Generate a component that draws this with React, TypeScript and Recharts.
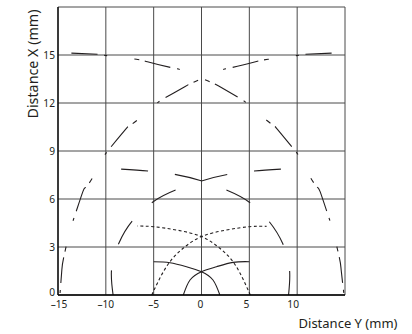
import React from 'react';
import { LineChart, Line, XAxis, YAxis, CartesianGrid } from 'recharts';

const xTicks = [-15, -10, -5, 0, 5, 10, 15];
const yTicks = [0, 3, 6, 9, 12, 15, 18];

// outer lobe, long-dash, starting at top right going down the left side
const outerLobeA: [number, number][] = [
  [13.6, 15.12], [10.8, 15.04], [9.9, 14.96], [6.96, 14.73], [5.65, 14.58], [3.07, 14.2], [1.9, 14.0],
  [-0.7, 13.33], [-1.75, 13.02], [-4.18, 12.19], [-5.0, 11.77], [-7.25, 10.69], [-7.94, 10.35],
  [-9.86, 8.96], [-10.45, 8.33], [-11.9, 6.86], [-12.4, 6.46], [-13.4, 4.69], [-13.77, 4.02],
  [-14.4, 2.36], [-14.6, 1.56], [-14.8, 0],
];
// outer lobe, long-dash, starting at top left going down the right side
const outerLobeB: [number, number][] = [
  [-13.6, 15.12], [-10.8, 15.04], [-9.9, 14.96], [-6.8, 14.73], [-5.65, 14.58], [-3.07, 14.2], [-1.85, 14.0],
  [0.7, 13.37], [1.8, 13.06], [4.18, 12.23], [5.05, 11.8], [7.3, 10.69], [7.94, 10.35],
  [9.86, 8.96], [10.45, 8.33], [11.9, 6.87], [12.4, 6.46], [13.4, 4.69], [13.75, 4.02],
  [14.4, 2.36], [14.6, 1.56], [14.9, 0],
];
// middle lobe, medium dash
const middleLobeC: [number, number][] = [
  [-8.4, 7.87], [-5.6, 7.75], [-2.8, 7.54], [0, 7.13], [2.6, 6.56], [5.0, 5.8], [7.06, 4.6], [8.5, 3.2], [9.2, 1.6], [9.1, 0],
];
const middleLobeD: [number, number][] = [
  [8.3, 7.87], [5.5, 7.75], [2.78, 7.54], [0, 7.13], [-2.69, 6.56], [-5.05, 5.83], [-7.2, 4.65], [-8.64, 3.23], [-9.4, 1.6], [-9.24, 0],
];
// inner lobe, dotted
const innerDottedE: [number, number][] = [
  [-5.2, 0], [-4.36, 1.04], [-3.3, 2.08], [-1.92, 2.92], [0, 3.65], [2.6, 4.06], [5.05, 4.27], [6.8, 4.29],
];
const innerDottedF: [number, number][] = [
  [5.1, 0], [4.3, 1.04], [3.3, 2.08], [1.92, 2.92], [0, 3.65], [-2.6, 4.06], [-5.05, 4.27], [-6.7, 4.31],
];
// innermost lobe, solid
const innerSolidG: [number, number][] = [
  [-5.0, 2.08], [-3.3, 2.02], [-1.57, 1.77], [0, 1.46], [1.2, 0.94], [1.92, 0],
];
const innerSolidH: [number, number][] = [
  [5.0, 2.08], [3.3, 2.04], [1.57, 1.77], [0, 1.46], [-1.2, 0.94], [-1.9, 0],
];

const toRows = (pts: [number, number][]) => pts.map(([x, y]) => ({ x, y }));

const INK = '#231f20';
const FONT = '"Noto Sans", "Open Sans", sans-serif';

const xDx: Record<number, number> = { [-15]: 1, [-10]: 0, [-5]: 0, 0: -1, 5: -3, 10: -4 };

const XTick = (props: any) => {
  const { x, y, payload } = props;
  const v = payload.value;
  if (v === 15) return null;
  const label = v < 0 ? '\u2013' + Math.abs(v) : String(v);
  return (
    <text x={x + (xDx[v] ?? 0)} y={y + 13} textAnchor="middle" fontSize={10.2} fontFamily={FONT} fill={INK}>
      {label}
    </text>
  );
};

const YTick = (props: any) => {
  const { x, y, payload } = props;
  const v = payload.value;
  if (v === 18) return null;
  const lift = v === 0 ? -2.5 : 0;
  return (
    <text x={x - 3} y={y + 3.7 + lift} textAnchor="end" fontSize={10.2} fontFamily={FONT} fill={INK}>
      {String(v)}
    </text>
  );
};

const YTitle = () => (
  <text x={32} y={64} transform="rotate(-90 32 64)" textAnchor="middle" dominantBaseline="central"
    fontSize={14.3} fontFamily={FONT} fill={INK}>
    Distance X (mm)
  </text>
);

const XTitle = () => (
  <text x={348} y={328} textAnchor="middle" fontSize={13} fontFamily={FONT} fill={INK}>
    Distance Y (mm)
  </text>
);

const series = [
  { key: 'A', pts: outerLobeA, dash: '26 7 3 27 5 6' },
  { key: 'B', pts: outerLobeB, dash: '26 7 3 27 5 6' },
  { key: 'C', pts: middleLobeC, dash: '27 27' },
  { key: 'D', pts: middleLobeD, dash: '27 27' },
  { key: 'E', pts: innerDottedE, dash: '3 2.5' },
  { key: 'F', pts: innerDottedF, dash: '3 2.5' },
  { key: 'G', pts: innerSolidG, dash: undefined },
  { key: 'H', pts: innerSolidH, dash: undefined },
];

export default function App() {
  return (
    <div style={{ width: 412, height: 334 }}>
      <style>{`body{margin:0;}`}</style>
      <LineChart width={412} height={334} margin={{ top: 7, right: 67, bottom: 0, left: 0 }}>
        <CartesianGrid stroke="#4a4a4a" strokeWidth={1} horizontalValues={yTicks} verticalValues={xTicks} />
        <XAxis
          type="number"
          dataKey="x"
          domain={[-15, 15]}
          ticks={xTicks}
          allowDataOverflow
          height={39}
          tickLine={false}
          tickSize={0}
          tickMargin={0}
          axisLine={{ stroke: '#000', strokeWidth: 1.3 }}
          tick={<XTick />}
          label={<XTitle />}
        />
        <YAxis
          type="number"
          domain={[0, 18]}
          ticks={yTicks}
          allowDataOverflow
          width={58}
          tickLine={false}
          tickSize={0}
          tickMargin={0}
          axisLine={{ stroke: '#000', strokeWidth: 1.3 }}
          tick={<YTick />}
          label={<YTitle />}
        />
        {series.map((s) => (
          <Line
            key={s.key}
            data={toRows(s.pts)}
            dataKey="y"
            type="natural"
            stroke={INK}
            strokeWidth={1.1}
            strokeDasharray={s.dash}
            dot={false}
            activeDot={false}
            isAnimationActive={false}
            legendType="none"
          />
        ))}
      </LineChart>
    </div>
  );
}
